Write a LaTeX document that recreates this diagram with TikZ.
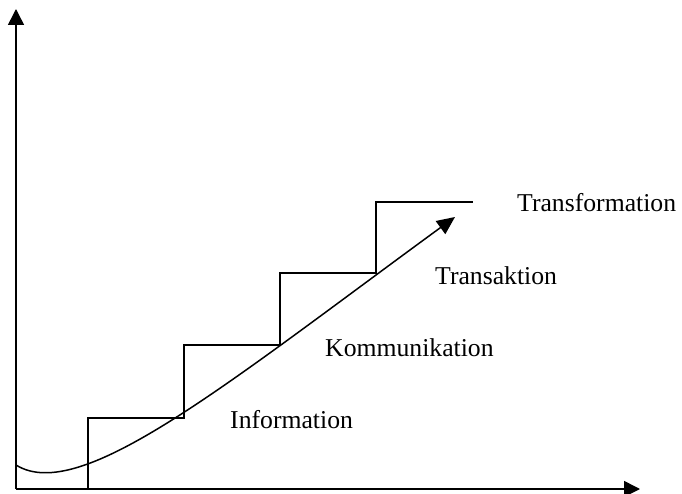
\documentclass[tikz,border=0pt]{standalone}
\usepackage{fontspec}
\setmainfont{Liberation Serif}
\usetikzlibrary{arrows.meta}
\begin{document}
\begin{tikzpicture}[x=1pt,y=-1pt,
  line/.style={line width=1.5pt},
  axisarrow/.style={line, -{Triangle[length=16pt,width=16pt]}},
  label/.style={anchor=base west, inner sep=0pt, font=\fontsize{25.7}{30}\selectfont}]
\useasboundingbox (0,0) rectangle (682,494);

% axes
\coordinate (O) at (16,489);
\coordinate (ytop) at (16,9);
\coordinate (xend) at (640,489);
\draw[axisarrow] (O) -- (ytop);
\draw[axisarrow] (O) -- (xend);

% staircase
\coordinate (s0) at (88,489);
\coordinate (s1) at (88,418);
\coordinate (s2) at (184,418);
\coordinate (s3) at (184,345);
\coordinate (s4) at (280,345);
\coordinate (s5) at (280,273);
\coordinate (s6) at (376,273);
\coordinate (s7) at (376,202);
\coordinate (s8) at (473,202);
\draw[line] (s0) -- (s1) -- (s2) -- (s3) -- (s4) -- (s5) -- (s6) -- (s7) -- (s8);

% growth curve
\coordinate (c0) at (16,465);
\coordinate (c1) at (455,217);
\draw[line, -{Triangle[length=18pt,width=16pt]}]
  (c0) .. controls (80,505) and (225,385) .. (c1);

% stage labels
\node[label] (info) at (230,428) {Information};
\node[label] (komm) at (325,356) {Kommunikation};
\node[label] (trans) at (435,284) {Transaktion};
\node[label] (tform) at (517,212) {Transformation};
\end{tikzpicture}
\end{document}
